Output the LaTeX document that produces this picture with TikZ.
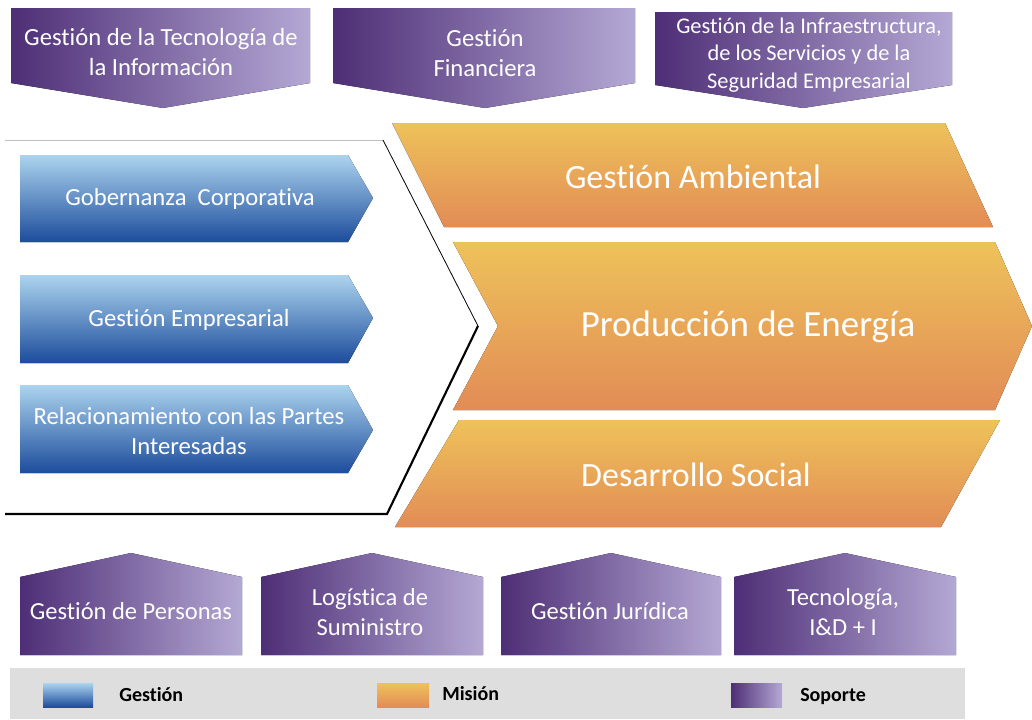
\documentclass[tikz,border=0pt]{standalone}
\usepackage{fontspec}
\setmainfont{Carlito}[Ligatures=CommonOff]
\definecolor{pdark}{RGB}{78,46,118}
\definecolor{plight}{RGB}{180,168,212}
\definecolor{blight}{RGB}{172,212,238}
\definecolor{bdark}{RGB}{28,76,156}
\definecolor{otop}{RGB}{238,194,90}
\definecolor{obot}{RGB}{226,140,86}
\definecolor{legbg}{RGB}{222,222,222}
\begin{document}
\begin{tikzpicture}[x=0.75pt,y=-0.75pt,
  soporte/.style={left color=pdark, right color=plight},
  gestion/.style={top color=blight, bottom color=bdark},
  mision/.style={top color=otop, bottom color=obot},
  wlbl/.style={text=white, align=center, inner sep=0pt},
  toplbl/.style={wlbl, font=\fontsize{18.5}{22.5}\selectfont},
  smalltop/.style={wlbl, font=\fontsize{16.8}{20.6}\selectfont},
  bluelbl/.style={wlbl, font=\fontsize{18.5}{22.5}\selectfont},
  orlbl/.style={wlbl, font=\fontsize{25.5}{30}\selectfont},
  botlbl/.style={wlbl, font=\fontsize{18.4}{22.5}\selectfont},
  leglbl/.style={anchor=west, inner sep=0pt, font=\bfseries\fontsize{15}{18}\selectfont}]
\useasboundingbox (0,0) rectangle (1032,719);
\fill[white] (0,0) rectangle (1032,719);

% top support arrows
\fill[soporte] (11,8) -- (310,8) -- (310,83) -- (163,108) -- (11,83) -- cycle;
\node[toplbl] (t1) at (161,52) {Gestión de la Tecnología de\\la Información};
\fill[soporte] (333,8) -- (635,8) -- (635,83) -- (485,108) -- (333,83) -- cycle;
\node[toplbl] (t2) at (485,53) {Gestión\\Financiera};
\fill[soporte] (655,12) -- (952,12) -- (952,85) -- (803,108) -- (655,85) -- cycle;
\node[smalltop] (t3) at (809,55) {Gestión de la Infraestructura,\\de los Servicios y de la\\Seguridad Empresarial};

% left management panel
\fill[white] (5,140) -- (383,140) -- (478,326) -- (387,515) -- (5,515) -- cycle;
\draw[black!25, line width=0.6pt] (5,140) -- (383,140);
\draw[black, line width=0.6pt] (383,140) -- (478,326);
\draw[black, line width=1.6pt] (478,326) -- (387,514) -- (5,514);

\fill[gestion] (20,155) -- (348,155) -- (373,198) -- (348,242) -- (20,242) -- cycle;
\node[bluelbl] (b1) at (190,199) {Gobernanza\ \ Corporativa};
\fill[gestion] (20,275) -- (348,275) -- (373,318) -- (348,363) -- (20,363) -- cycle;
\node[bluelbl] (b2) at (189,320) {Gestión Empresarial};
\fill[gestion] (20,385) -- (348,385) -- (373,430) -- (348,473) -- (20,473) -- cycle;
\node[bluelbl] (b3) at (189,431) {Relacionamiento con las Partes\\Interesadas};

% mission chevrons
\fill[mision] (392,123) -- (945,123) -- (993,227) -- (444,227) -- cycle;
\node[orlbl] (m1) at (693,177) {Gestión Ambiental};
\fill[mision] (453,242) -- (995,242) -- (1032,326) -- (995,410) -- (453,410) -- (498,326) -- cycle;
\node[wlbl, font=\fontsize{27.7}{32}\selectfont] (m2) at (748,327) {Producción de Energía};
\fill[mision] (459,420) -- (1000,420) -- (941,527) -- (395,527) -- cycle;
\node[orlbl] (m3) at (696,475) {Desarrollo Social};

% bottom support houses
\fill[soporte] (20,655) -- (20,577) -- (131,553) -- (242,577) -- (242,655) -- cycle;
\node[botlbl] (s1) at (131,611) {Gestión de Personas};
\fill[soporte] (261,655) -- (261,577) -- (372,553) -- (483,577) -- (483,655) -- cycle;
\node[botlbl] (s2) at (370,612) {Logística de\\Suministro};
\fill[soporte] (501,655) -- (501,577) -- (611,553) -- (721,577) -- (721,655) -- cycle;
\node[botlbl] (s3) at (610,611) {Gestión Jurídica};
\fill[soporte] (734,655) -- (734,577) -- (845,553) -- (956,577) -- (956,655) -- cycle;
\node[botlbl] (s4) at (843,612) {Tecnología,\\I\&D + I};

% legend
\fill[legbg] (10,668) rectangle (965,719);
\fill[gestion] (43,683) rectangle (93,707);
\node[leglbl] (l1) at (119,695) {Gestión};
\fill[mision] (377,683) rectangle (429,707);
\node[leglbl] (l2) at (442,694) {Misión};
\fill[soporte] (731,683) rectangle (782,707);
\node[leglbl] (l3) at (800,696) {Soporte};
\end{tikzpicture}
\end{document}
